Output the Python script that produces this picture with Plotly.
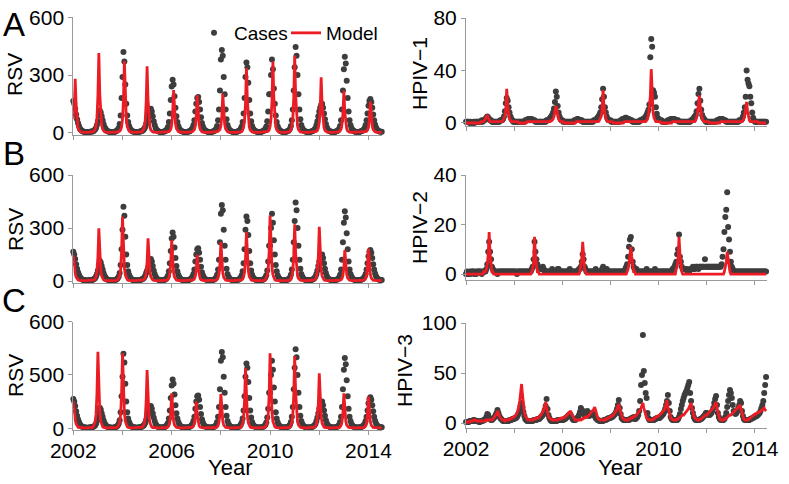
import plotly.graph_objects as go

# ---------------- data (values per year, 26 samples per year: year + j/26) ----------------
STEPS = 26
START_YEAR = 2002

rsv_cases = [
    [165,150,125,95,70,50,35,22,15,10,7,5,4,4,3,3,3,4,5,6,6,8,11,16,25,40],
    [60,90,115,105,85,65,45,30,20,13,9,6,5,4,3,3,3,4,5,7,10,15,25,45,90,180],
    [290,420,370,250,150,90,55,35,22,14,9,6,5,4,4,3,3,4,5,7,8,10,14,20,30,45],
    [60,75,95,115,125,110,85,60,40,25,15,10,7,5,4,4,4,5,6,8,12,18,30,55,100,170],
    [240,275,250,190,130,85,55,35,22,14,9,7,5,4,4,4,4,5,6,8,11,16,25,40,65,110],
    [150,180,185,160,120,80,50,32,20,13,9,7,5,4,4,4,4,5,7,9,13,20,35,65,120,220],
    [380,430,400,290,200,120,70,40,25,15,10,7,5,4,4,4,4,5,7,9,13,20,32,55,100,180],
    [290,365,340,260,170,100,60,35,22,14,9,7,5,4,4,4,4,5,7,9,13,20,32,60,110,200],
    [200,300,380,330,230,150,90,55,33,20,13,9,6,5,4,4,4,5,7,9,13,20,35,65,120,220],
    [340,445,400,300,200,120,70,40,25,15,10,7,5,4,4,4,4,5,7,9,12,17,25,40,60,85],
    [110,130,145,150,130,100,70,45,28,17,11,8,6,5,4,4,4,5,7,9,13,20,35,65,120,220],
    [330,395,360,270,180,110,65,40,25,15,10,7,5,4,4,4,4,5,7,9,12,17,25,40,65,100],
    [140,165,175,160,130,95,65,42,27,17,11,8,6,5,5],
]

rsv_model_a = [
    [70,150,280,140,60,25,12,6,4,3,2,2,2,2,2,2,2,2,2,3,4,5,9,17,33,75],
    [190,414,200,85,38,18,9,5,3,2,2,2,2,2,2,2,2,2,3,3,3,4,6,8,15,30],
    [70,170,373,180,75,33,15,8,5,3,2,2,2,2,2,2,2,2,2,3,4,7,14,28,62,155],
    [345,170,70,30,14,7,4,3,2,2,2,2,2,2,2,2,2,2,2,2,3,3,4,5,9,18],
    [40,100,222,110,48,22,10,6,4,3,2,2,2,2,2,2,2,2,2,3,3,4,6,9,16,36],
    [87,194,97,42,18,9,5,3,2,2,2,2,2,2,2,2,2,2,2,2,3,4,5,7,10,17],
    [36,90,202,100,44,20,10,5,3,2,2,2,2,2,2,2,2,2,2,3,3,4,6,13,28,65],
    [150,336,165,70,30,14,7,4,3,2,2,2,2,2,2,2,2,2,2,3,3,3,4,5,8,14],
    [32,70,165,370,180,75,33,15,8,5,3,2,2,2,2,2,2,2,2,3,4,8,15,32,72,180],
    [401,195,80,35,16,8,4,3,2,2,2,2,2,2,2,2,2,2,2,3,3,4,5,7,12,25],
    [55,130,288,140,60,27,12,6,4,3,2,2,2,2,2,2,2,2,2,3,4,6,10,20,44,98],
    [218,105,45,20,9,5,3,2,2,2,2,2,2,2,2,2,2,2,2,3,3,3,4,5,7,13],
    [29,72,160,80,35,16,8,5,3,2,2,2,2,2,2],
]

rsv_model_b = [
    [145,85,45,22,11,6,4,3,2,2,2,2,2,2,2,2,2,2,2,3,3,4,6,12,24,54],
    [134,298,150,65,28,13,7,4,3,2,2,2,2,2,2,2,2,2,2,3,4,8,15,29,66,164],
    [364,180,75,33,15,8,4,3,2,2,2,2,2,2,2,2,2,2,2,2,3,4,6,10,19,44],
    [109,242,120,52,23,11,6,4,3,2,2,2,2,2,2,2,2,2,2,2,3,5,10,19,42,104],
    [232,115,48,21,10,5,3,2,2,2,2,2,2,2,2,2,2,2,2,2,2,3,4,6,12,27],
    [67,148,74,32,14,7,4,3,2,2,2,2,2,2,2,2,2,2,2,2,3,5,9,18,40,99],
    [220,108,45,20,9,5,3,2,2,2,2,2,2,2,2,2,2,2,2,2,3,4,6,11,22,50],
    [124,275,137,58,25,12,6,4,3,2,2,2,2,2,2,2,2,2,2,2,4,7,15,30,67,167],
    [370,185,78,34,16,8,4,3,2,2,2,2,2,2,2,2,2,2,2,2,4,7,13,26,58,145],
    [321,160,67,29,14,7,4,3,2,2,2,2,2,2,2,2,2,2,2,2,4,6,12,25,55,138],
    [307,152,64,28,13,7,4,3,2,2,2,2,2,2,2,2,2,2,2,2,3,4,5,7,14,32],
    [79,175,87,37,16,8,4,3,2,2,2,2,2,2,2,2,2,2,2,2,3,5,8,15,33,82],
    [182,90,38,17,8,4,3,2,2,2,2,2,2,2,2],
]

rsv_model_c = [
    [150,90,48,24,12,6,4,3,2,2,2,2,2,2,2,2,2,2,2,2,4,8,17,34,78,194],
    [431,215,90,39,19,9,5,3,2,2,2,2,2,2,2,2,2,2,2,2,4,8,17,34,76,190],
    [422,211,89,38,19,9,5,3,2,2,2,2,2,2,2,2,2,2,2,2,3,6,13,26,59,148],
    [328,164,69,30,15,7,4,3,2,2,2,2,2,2,2,2,2,2,2,2,3,4,8,16,35,89],
    [197,98,41,18,9,5,3,2,2,2,2,2,2,2,2,2,2,2,2,2,2,3,6,12,27,68],
    [150,75,32,14,7,4,3,2,2,2,2,2,2,2,2,2,2,2,2,2,3,4,8,15,35,87],
    [193,96,41,17,9,5,3,2,2,2,2,2,2,2,2,2,2,2,2,2,3,5,13,27,61,152],
    [337,168,71,30,15,7,4,3,2,2,2,2,2,2,2,2,2,2,2,2,4,8,17,34,76,190],
    [422,211,89,38,19,9,5,3,2,2,2,2,2,2,2,2,2,2,2,2,4,8,16,33,73,183],
    [407,203,85,37,18,9,5,3,2,2,2,2,2,2,2,2,2,2,2,2,3,6,12,25,56,139],
    [309,154,65,28,14,7,4,3,2,2,2,2,2,2,2,2,2,2,2,2,3,4,8,16,35,89],
    [197,98,41,18,9,5,3,2,2,2,2,2,2,2,2,2,2,2,2,2,3,4,7,14,32,80],
    [178,89,37,16,8,4,3,2,2,2,2,2,2,2,2],
]

hpiv1_cases = [
    [1,1,1,1,0,1,0,0,1,0,1,1,1,1,1,1,1,2,1,2,2,3,4,5,4,3],
    [2,2,1,1,1,1,1,1,1,1,1,2,2,2,3,5,9,15,19,17,12,8,5,3,2,1],
    [1,1,1,1,1,1,1,1,1,1,1,1,2,2,2,3,2,3,2,3,2,2,2,1,1,1],
    [1,1,1,1,1,1,1,1,1,2,2,2,3,4,5,6,8,11,16,24,20,13,8,5,3,2],
    [2,1,1,1,1,1,1,1,1,1,1,1,1,2,2,2,3,3,2,2,2,2,1,1,1,1],
    [1,1,1,1,1,1,1,1,2,2,2,3,4,5,6,8,12,18,26,20,12,8,5,3,2,2],
    [2,1,1,1,1,1,1,1,1,1,1,2,2,3,3,3,4,4,3,3,3,2,2,2,1,1],
    [1,1,1,1,1,1,2,2,2,3,3,4,5,6,8,10,14,50,64,58,25,23,20,12,7,4],
    [3,2,2,2,1,1,1,1,1,1,2,2,2,3,3,3,3,3,2,2,2,2,1,1,1,1],
    [1,1,1,1,1,1,1,1,1,2,2,3,4,5,6,9,15,22,26,17,10,6,4,3,2,1],
    [1,1,1,1,1,1,1,1,1,1,1,2,2,2,3,3,3,3,2,2,2,1,1,1,1,1],
    [1,1,1,1,1,1,1,1,1,2,2,2,3,5,8,12,20,40,33,30,28,20,15,8,4,2],
    [1,1,1,1,1,1,1,1,1,1,1,1,1],
]

hpiv1_model = [
    [0,0,0,0,0,0,0,0,0,0,0,0,0,0,0,0,1,1,1,1,2,3,5,6,3,2],
    [1,1,1,1,1,1,1,1,1,1,1,1,1,1,2,3,5,11,26,12,5,3,2,1,1,1],
    [1,1,1,1,1,0,0,0,0,0,0,0,0,0,1,1,1,1,1,1,1,1,1,1,1,1],
    [1,1,1,1,1,1,1,1,1,1,1,1,1,1,2,2,3,5,9,13,10,6,3,2,1,1],
    [1,1,0,0,0,0,0,0,0,0,0,0,0,0,0,1,1,1,1,1,1,1,1,1,1,1],
    [1,1,1,1,1,1,1,1,1,1,1,1,1,1,2,3,5,10,25,12,5,3,2,1,1,1],
    [1,1,1,0,0,0,0,0,0,0,0,0,0,0,0,1,1,1,1,1,1,1,1,1,1,1],
    [1,1,1,1,1,1,1,1,1,1,1,1,1,2,3,6,12,20,41,18,8,4,2,1,1,1],
    [1,1,1,0,0,0,0,0,0,0,0,0,0,0,0,1,1,1,1,1,1,1,1,1,1,1],
    [1,1,1,1,1,1,1,1,1,1,1,1,1,1,2,4,8,14,21,12,5,3,2,1,1,1],
    [1,1,1,0,0,0,0,0,0,0,0,0,0,0,0,1,1,1,1,1,1,1,1,1,1,1],
    [1,1,1,1,1,1,1,1,1,1,1,1,1,2,3,6,10,16,9,4,2,1,1,1,1,1],
    [1,1,1,1,0,0,0,0,0,0,0,0,0],
]

hpiv2_cases = [
    [0,1,0,0,1,0,1,1,1,0,1,0,1,1,1,1,1,0,1,1,1,1,2,4,9,13],
    [9,6,3,2,1,1,1,1,0,1,1,1,1,1,1,1,1,1,1,1,1,1,1,1,1,1],
    [1,1,1,0,1,1,1,1,1,1,1,1,1,1,1,1,1,1,1,2,3,6,13,9,6,4],
    [3,2,2,2,2,3,2,1,1,1,1,1,1,1,1,2,1,1,1,1,1,2,2,1,1,1],
    [1,1,1,1,1,1,1,1,2,1,1,1,1,1,1,1,1,1,2,2,3,5,8,6,3,2],
    [1,1,1,1,1,1,1,1,1,1,2,1,1,1,1,1,1,2,3,2,1,2,2,1,1,1],
    [1,1,1,1,1,1,1,1,1,1,1,1,1,1,1,1,2,3,4,7,11,14,15,10,5,3],
    [2,2,2,1,1,1,1,1,1,1,1,1,1,2,1,1,1,1,1,1,1,1,2,1,1,1],
    [1,1,1,1,1,1,1,1,1,1,1,1,1,1,1,2,2,3,4,5,8,10,16,7,5,3],
    [2,2,2,2,2,1,1,1,2,2,2,3,2,2,3,3,3,2,3,3,3,3,3,3,6,3],
    [3,3,3,3,3,3,3,3,3,3,3,3,3,3,3,3,4,7,10,17,23,26,33,19,14,9],
    [5,3,2,1,1,1,1,1,1,1,1,1,1,1,1,1,1,1,1,1,1,1,1,1,1,1],
    [1,1,1,1,1,1,1,1,1,1,1,1,1],
]

hpiv2_model = [
    [0,0,0,0,0,0,0,0,0,0,0,0,0,0,0,0,0,0,0,1,1,1,2,4,8,17],
    [8,3,1,1,0,0,0,0,0,0,0,0,0,0,0,0,0,0,0,0,0,0,0,0,0,0],
    [0,0,0,0,0,0,0,0,0,0,0,0,0,0,0,0,0,0,0,1,2,5,15,7,3,1],
    [1,0,0,0,0,0,0,0,0,0,0,0,0,0,0,0,0,0,0,0,0,0,0,0,0,0],
    [0,0,0,0,0,0,0,0,0,0,0,0,0,0,0,0,0,0,0,1,3,6,13,6,2,1],
    [0,0,0,0,0,0,0,0,0,0,0,0,0,0,0,0,0,0,0,0,0,0,0,0,0,0],
    [0,0,0,0,0,0,0,0,0,0,0,0,0,0,0,0,0,0,1,2,4,7,11,7,3,1],
    [1,0,0,0,0,0,0,0,0,0,0,0,0,0,0,0,0,0,0,0,0,0,0,0,0,0],
    [0,0,0,0,0,0,0,0,0,0,0,0,0,0,0,0,0,0,0,2,3,6,15,8,3,1],
    [0,0,0,0,0,0,0,0,0,0,0,0,0,0,0,0,0,0,0,0,0,0,0,0,0,0],
    [0,0,0,0,0,0,0,0,0,0,0,0,0,0,0,0,0,0,0,1,3,5,9,6,3,1],
    [0,0,0,0,0,0,0,0,0,0,0,0,0,0,0,0,0,0,0,0,0,0,0,0,0,0],
    [0,0,0,0,0,0,0,0,0,0,0,0,0],
]

hpiv3_cases = [
    [1,1,1,1,2,2,2,2,3,3,2,2,2,2,1,1,2,2,2,3,3,4,6,9,8,5],
    [4,3,3,4,5,6,8,10,13,10,7,5,4,3,2,2,2,2,2,2,2,3,3,3,4,4],
    [4,5,5,6,8,10,13,17,20,16,11,7,4,3,2,2,2,2,2,2,2,3,3,3,3,4],
    [4,4,5,6,7,8,10,13,17,24,14,8,5,3,2,2,2,2,2,2,2,3,3,3,3,3],
    [3,3,4,4,5,6,7,8,9,8,6,4,3,3,3,4,5,6,8,11,15,13,12,10,8,7],
    [8,12,9,7,8,9,10,9,8,7,5,4,3,3,2,2,2,2,2,3,3,3,4,4,5,5],
    [5,6,6,7,8,9,11,14,18,23,15,9,5,4,3,3,3,3,3,3,3,4,4,5,5,6],
    [4,4,5,6,8,12,22,38,48,88,52,40,30,25,10,5,3,3,3,3,3,3,4,4,5,5],
    [5,5,6,7,8,9,11,14,18,22,28,20,12,6,4,3,3,3,3,3,3,4,6,9,14,18],
    [22,25,28,30,32,35,38,41,30,22,15,10,6,4,3,3,3,3,3,4,4,5,6,7,8,10],
    [10,9,8,8,9,10,12,15,20,24,27,18,10,6,4,3,3,3,3,4,6,10,16,22,28,33],
    [30,25,18,12,10,9,10,12,15,18,22,20,12,7,4,3,3,3,3,3,3,4,4,5,5,6],
    [6,7,7,8,9,10,12,15,18,22,30,38,46],
]

hpiv3_model = [
    [1,1,1,1,1,2,2,2,3,3,3,2,2,2,2,2,2,2,2,2,2,2,3,3,3,3],
    [3,3,3,4,5,6,7,9,12,9,7,5,4,3,3,3,2,3,3,3,3,4,4,5,5,6],
    [6,7,8,10,12,16,22,30,39,28,18,11,7,5,4,3,3,3,3,3,3,4,4,4,5,5],
    [5,6,7,8,9,11,14,17,21,15,10,7,5,4,3,3,3,3,3,3,3,3,4,4,4,5],
    [5,5,6,6,7,8,9,10,11,12,9,7,5,4,3,3,3,3,3,3,3,4,4,5,5,6],
    [6,6,7,8,9,10,11,13,14,16,12,9,6,4,3,3,3,3,3,3,3,4,4,5,5,6],
    [6,7,7,8,9,10,12,14,16,19,14,10,7,5,4,3,3,3,3,3,4,4,5,5,6,6],
    [7,7,8,9,10,11,13,15,17,20,15,11,8,5,4,3,3,3,3,3,4,4,5,6,6,7],
    [7,8,8,9,10,11,13,15,18,23,16,11,7,5,4,3,3,3,3,3,4,4,5,6,7,7],
    [8,8,9,10,11,12,14,16,18,20,15,10,7,5,4,3,3,3,3,4,4,5,6,7,7,8],
    [8,9,9,10,11,12,13,15,17,19,21,15,10,6,4,3,3,3,3,4,4,5,6,7,8,8],
    [8,9,9,10,11,12,13,14,15,16,18,13,9,6,4,3,3,3,3,4,4,5,6,7,8,9],
    [9,9,10,10,11,11,12,13,14,14,15,13,12],
]

year_ticks = [2002, 2004, 2006, 2008, 2010, 2012, 2014]
year_labels = ["2002", "", "2006", "", "2010", "", "2014"]

# ---------------- helpers ----------------
def series(rows):
    xs, ys = [], []
    for k, row in enumerate(rows):
        for j, v in enumerate(row):
            xs.append(START_YEAR + k + j / STEPS)
            ys.append(v)
    return xs, ys

W, H = 789, 484
FONT = "Liberation Sans, Arial, Helvetica, sans-serif"
CASE_COLOR = "#3d3d3d"
MODEL_COLOR = "#ec1c24"
AXIS_COLOR = "#9a9a9a"

def xdom(a, b):
    return [a / W, b / W]

def ydom(top, bottom):
    return [1 - bottom / H, 1 - top / H]

# panel specs: (cases, model, x pixel span, y pixel span, x range, y range, yticks, ytick text)
panels = [
    (rsv_cases, rsv_model_a, (73.3, 382), (17.3, 135), [2002, 2014.55], [-12, 600], [0, 300, 600], ["0", "300", "600"]),
    (hpiv1_cases, hpiv1_model, (466, 767), (18, 126), [2002, 2014.5], [-2.3, 80], [0, 40, 80], ["0", "40", "80"]),
    (rsv_cases, rsv_model_b, (73.3, 382), (175, 283.3), [2002, 2014.55], [-13, 600], [0, 300, 600], ["0", "300", "600"]),
    (hpiv2_cases, hpiv2_model, (466, 767), (175, 280), [2002, 2014.5], [-2.4, 40], [0, 20, 40], ["0", "20", "40"]),
    (rsv_cases, rsv_model_c, (73.3, 382), (321.7, 430), [2002, 2014.55], [-10, 600], [0, 300, 600], ["0", "500", "600"]),
    (hpiv3_cases, hpiv3_model, (466, 767), (323, 428), [2002, 2014.5], [-5, 100], [0, 50, 100], ["0", "50", "100"]),
]

fig = go.Figure()
layout_axes = {}
for i, (cases, model, xs_px, ys_px, xr, yr, yt, ytt) in enumerate(panels):
    n = i + 1
    xa = "x" if n == 1 else f"x{n}"
    ya = "y" if n == 1 else f"y{n}"
    cx, cy = series(cases)
    mx, my = series(model)
    fig.add_trace(go.Scatter(
        x=cx, y=cy, mode="markers", name="Cases",
        marker=dict(color=CASE_COLOR, size=6, line=dict(width=0)),
        xaxis=xa, yaxis=ya, showlegend=(n == 1), cliponaxis=False,
    ))
    fig.add_trace(go.Scatter(
        x=mx, y=my, mode="lines", name="Model",
        line=dict(color=MODEL_COLOR, width=2.8),
        xaxis=xa, yaxis=ya, showlegend=(n == 1),
    ))
    bottom_row = n in (5, 6)
    layout_axes["xaxis" if n == 1 else f"xaxis{n}"] = dict(
        domain=xdom(*xs_px), range=xr, anchor=ya, automargin=False,
        tickmode="array", tickvals=year_ticks,
        ticktext=year_labels if bottom_row else [""] * len(year_ticks),
        ticks="outside", ticklen=4, tickcolor=AXIS_COLOR, tickwidth=1,
        ticklabelstandoff=-2,
        showline=True, linecolor=AXIS_COLOR, linewidth=1,
        showgrid=False, zeroline=False,
        tickfont=dict(size=21, color="black", family=FONT),
    )
    layout_axes["yaxis" if n == 1 else f"yaxis{n}"] = dict(
        domain=ydom(*ys_px), range=yr, anchor=xa, automargin=False,
        tickmode="array", tickvals=yt, ticktext=ytt,
        ticks="outside", ticklen=4, tickcolor=AXIS_COLOR, tickwidth=1,
        showline=True, linecolor=AXIS_COLOR, linewidth=1,
        showgrid=False, zeroline=False,
        tickfont=dict(size=21, color="black", family=FONT),
    )

def ann(text, x, y, size, angle=0):
    return dict(text=text, x=x / W, y=1 - y / H, xref="paper", yref="paper",
                showarrow=False, textangle=angle, xanchor="center", yanchor="middle",
                font=dict(size=size, color="black", family=FONT))

annotations = [
    ann("A", 14, 25, 33), ann("B", 14, 153, 33), ann("C", 14, 300, 33),
    ann("RSV", 15, 75, 21, -90), ann("RSV", 15, 230, 21, -90), ann("RSV", 15, 376, 21, -90),
    ann("HPIV\u22121", 419, 73, 21, -90), ann("HPIV\u22122", 419, 227, 21, -90),
    ann("HPIV\u22123", 404, 371, 21, -90),
    ann("Year", 230, 467, 22), ann("Year", 620, 467, 22),
]

fig.update_layout(
    width=W, height=H,
    margin=dict(l=0, r=0, t=0, b=0, autoexpand=False),
    paper_bgcolor="white", plot_bgcolor="white",
    font=dict(family=FONT, color="black"),
    showlegend=True,
    legend=dict(orientation="h", x=378 / W, xanchor="right", y=1 - 33 / H, yanchor="middle",
                font=dict(size=19, family=FONT, color="black"), bgcolor="rgba(0,0,0,0)",
                itemwidth=30, entrywidth=47, entrywidthmode="pixels", tracegroupgap=0),
    annotations=annotations,
    **layout_axes,
)

# remove the default page margin so the 789x484 figure fills the window exactly
fig.write_html(
    "out.html",
    config={"displayModeBar": False, "staticPlot": True},
    post_script="document.body.style.margin='0';document.body.style.overflow='hidden';",
)
